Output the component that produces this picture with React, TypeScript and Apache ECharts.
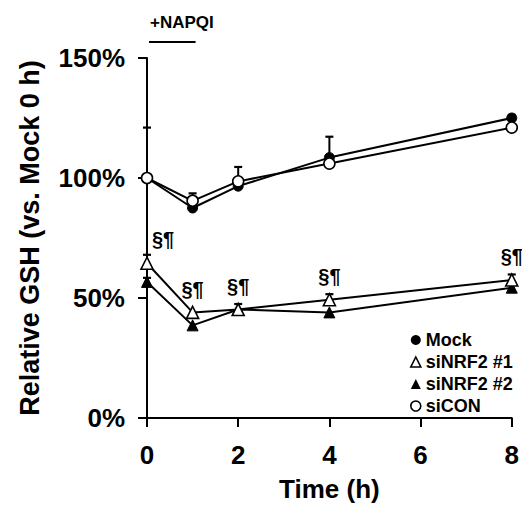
import React, { useEffect, useRef } from "react";
import * as echarts from "echarts";

// Time points (h)
const times = [0, 1, 2, 4, 8];
// Relative GSH (% of Mock 0 h)
const mock = [100, 87.5, 96.6, 108.5, 125];
const siCON = [100, 90.5, 98.6, 106, 121];
const siNRF2_1 = [64.5, 44, 45.2, 49.3, 57.5];
const siNRF2_2 = [56.7, 38.6, 45.2, 44, 54.3];
// Upper error bars (SD)
const mockErr = [21, 0, 0, 8.7, 1.3];
const siCONErr = [0, 3.1, 6, 0, 0];
const siNRF2_1Err = [3.5, 0, 2.3, 2.3, 2.3];
const siNRF2_2Err = [1.7, 0, 0, 0, 0];
// Significance marks (on siNRF2 #1 points)
const sigMark = "§¶";
// NAPQI exposure window (h)
const napqi = [0, 1];
// Axis settings
const xMin = 0, xMax = 8, xStep = 2;
const yMin = 0, yMax = 150, yStep = 50;
const seriesNames = ["Mock", "siNRF2 #1", "siNRF2 #2", "siCON"];

const FONT = "'Liberation Sans', Arial, Helvetica, sans-serif";

function errData(vals: number[], errs: number[]) {
  const out: number[][] = [];
  times.forEach((t, i) => {
    if (errs[i] > 0) out.push([t, vals[i], vals[i] + errs[i]]);
  });
  return out;
}

export default function App() {
  const ref = useRef<HTMLDivElement>(null);
  useEffect(() => {
    if (!ref.current) return;
    const chart = echarts.init(ref.current, null, { renderer: "svg" });
    const lineStyle = { color: "#000", width: 2 };
    const openItem = { color: "#fff", borderColor: "#000", borderWidth: 1.6 };
    const filledItem = { color: "#000", borderColor: "#000", borderWidth: 1 };
    const errSeries = (vals: number[], errs: number[]) => ({
      type: "custom",
      data: errData(vals, errs),
      encode: { x: 0, y: [1, 2] },
      clip: false,
      z: 1,
      renderItem: (params: any, api: any) => {
        const x = api.value(0);
        const p0 = api.coord([x, api.value(1)]);
        const p1 = api.coord([x, api.value(2)]);
        return {
          type: "group",
          children: [
            { type: "line", shape: { x1: p0[0], y1: p0[1], x2: p1[0], y2: p1[1] }, style: { stroke: "#000", lineWidth: 2 } },
            { type: "line", shape: { x1: p1[0] - 4, y1: p1[1], x2: p1[0] + 4, y2: p1[1] }, style: { stroke: "#000", lineWidth: 2.2 } },
          ],
        };
      },
    });
    const pts = (vals: number[]) => times.map((t, i) => [t, vals[i]]);
    const option: any = {
      animation: false,
      backgroundColor: "#fff",
      textStyle: { fontFamily: FONT },
      grid: { left: 147, right: 8, top: 58, bottom: 84 },
      xAxis: {
        type: "value",
        min: xMin,
        max: xMax,
        interval: xStep,
        name: "Time (h)",
        nameLocation: "middle",
        nameGap: 58,
        nameTextStyle: { fontSize: 26, fontWeight: "bold", color: "#000", fontFamily: FONT },
        axisLine: { lineStyle: { color: "#000", width: 2 } },
        axisTick: { length: 9, lineStyle: { color: "#000", width: 2 } },
        axisLabel: { fontSize: 26, fontWeight: "bold", color: "#000", margin: 24, fontFamily: FONT },
        splitLine: { show: false },
      },
      yAxis: {
        type: "value",
        min: yMin,
        max: yMax,
        interval: yStep,
        name: "Relative GSH (vs. Mock 0 h)",
        nameLocation: "middle",
        nameGap: 104,
        nameTextStyle: { fontSize: 27, fontWeight: "bold", color: "#000", fontFamily: FONT },
        axisLine: { lineStyle: { color: "#000", width: 2 } },
        axisTick: { length: 9, lineStyle: { color: "#000", width: 2 } },
        axisLabel: { fontSize: 26, fontWeight: "bold", color: "#000", margin: 22, formatter: "{value}%", fontFamily: FONT },
        splitLine: { show: false },
      },
      legend: {
        orient: "vertical",
        left: 405,
        top: 326,
        itemWidth: 10,
        itemHeight: 10,
        itemGap: 4,
        textStyle: { fontSize: 18, fontWeight: "bold", color: "#000", fontFamily: FONT },
        data: [
          { name: seriesNames[0], icon: "circle", itemStyle: { color: "#000", borderWidth: 0 } },
          { name: seriesNames[1], icon: "triangle", itemStyle: { color: "#fff", borderColor: "#000", borderWidth: 1.6 } },
          { name: seriesNames[2], icon: "triangle", itemStyle: { color: "#000", borderWidth: 0 } },
          { name: seriesNames[3], icon: "circle", itemStyle: { color: "#fff", borderColor: "#000", borderWidth: 1.6 } },
        ],
      },
      series: [
        errSeries(mock, mockErr),
        errSeries(siCON, siCONErr),
        errSeries(siNRF2_1, siNRF2_1Err),
        errSeries(siNRF2_2, siNRF2_2Err),
        {
          name: seriesNames[0], type: "line", data: pts(mock), symbol: "circle", symbolSize: 10,
          lineStyle, itemStyle: filledItem, z: 3,
        },
        {
          name: seriesNames[3], type: "line", data: pts(siCON), symbol: "circle", symbolSize: 11,
          lineStyle, itemStyle: openItem, z: 4,
        },
        {
          name: seriesNames[2], type: "line", data: pts(siNRF2_2), symbol: "triangle", symbolSize: 11,
          lineStyle, itemStyle: filledItem, z: 3,
        },
        {
          name: seriesNames[1], type: "line", data: times.map((t, i) => ({
            value: [t, siNRF2_1[i]],
            label: i === 0 ? { offset: [16, 0] } : undefined,
          })),
          symbol: "triangle", symbolSize: 12,
          lineStyle, itemStyle: openItem, z: 4,
          label: {
            show: true, position: "top", distance: 7, formatter: sigMark,
            fontSize: 20, fontWeight: "bold", color: "#000", fontFamily: FONT,
          },
        },
      ],
    };
    chart.setOption(option);
    const p0 = chart.convertToPixel({ gridIndex: 0 }, [napqi[0], yMax]) as number[];
    const p1 = chart.convertToPixel({ gridIndex: 0 }, [napqi[1], yMax]) as number[];
    chart.setOption({
      graphic: [
        {
          type: "line",
          shape: { x1: p0[0] + 2, y1: p0[1] - 16, x2: p1[0] + 3, y2: p1[1] - 16 },
          style: { stroke: "#000", lineWidth: 2 },
        },
        {
          type: "text",
          x: p0[0] + 3,
          y: p0[1] - 36,
          style: { text: "+NAPQI", fontSize: 17, fontWeight: "bold", fill: "#000", fontFamily: FONT, textVerticalAlign: "middle" },
        },
      ],
    });
    return () => chart.dispose();
  }, []);
  return <div ref={ref} style={{ position: "absolute", left: 0, top: 0, width: 522, height: 507 }} />;
}
